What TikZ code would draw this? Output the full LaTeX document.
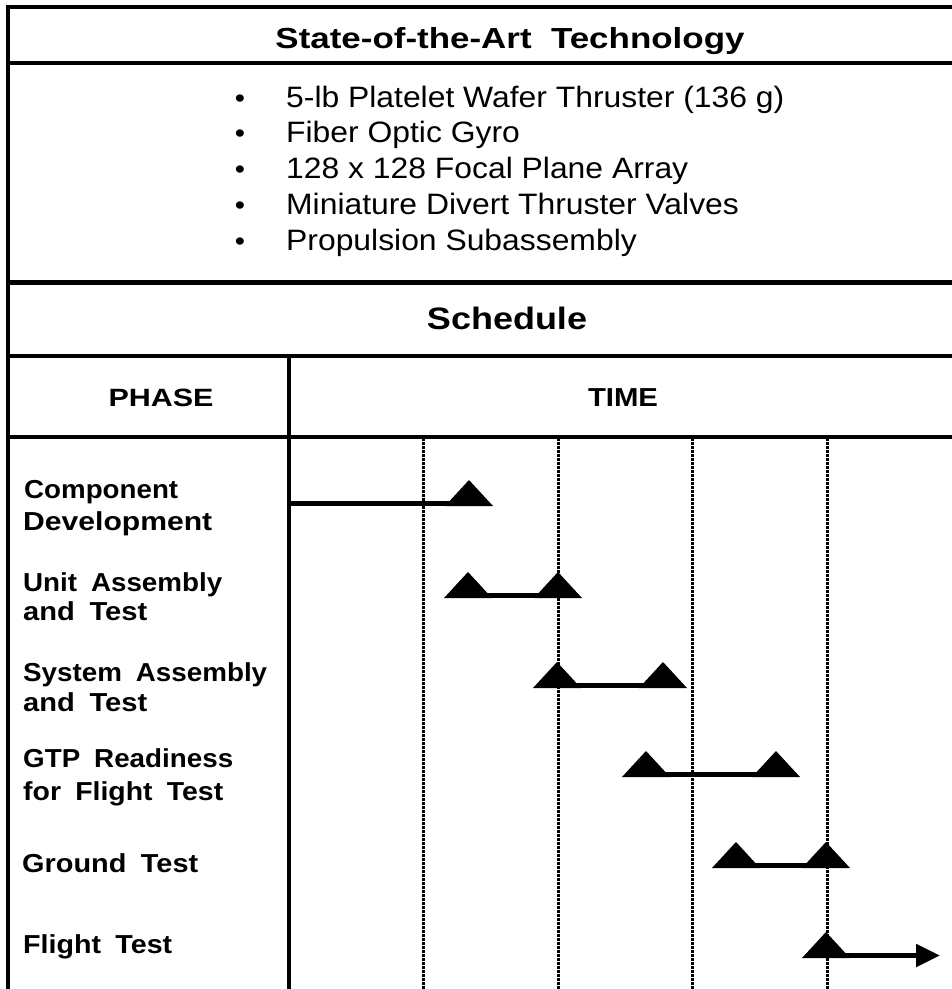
\documentclass[tikz,border=0pt]{standalone}
\usepackage{fontspec}
\usepackage{graphicx}
\usetikzlibrary{arrows.meta}
\setmainfont{Liberation Sans}
\newfontfamily\bodyf{Liberation Sans}[FakeStretch=1.08]
\newfontfamily\labf{Liberation Sans}[WordSpace=1.8]
\newcommand{\fitw}[2]{\resizebox{#1}{\height}{#2}}
\tikzset{
  frameline/.style={line width=3.5pt},
  thickline/.style={line width=5pt},
  gridline/.style={line width=3pt, dash pattern=on 2.6pt off 1.4pt},
  barline/.style={line width=5pt},
  heading/.style={inner sep=0pt, anchor=base},
  item/.style={inner sep=0pt, anchor=base west, font=\bodyf\fontsize{29.5}{34}\selectfont},
  lab/.style={inner sep=0pt, anchor=base west, font=\labf\bfseries\fontsize{26}{30}\selectfont},
  mile/.pic={\fill (-24,0) -- (0,-26) -- (24,0) -- cycle;}
}
\begin{document}
\begin{tikzpicture}[x=1pt,y=-1pt]
\useasboundingbox (0,0) rectangle (952,989);
% frame
\draw[frameline] (8,5) -- (8,989);
\draw[frameline] (6,7) -- (952,7);
\draw[frameline] (6,63) -- (952,63);
\draw[thickline] (6,282) -- (952,282);
\draw[frameline] (6,356) -- (952,356);
\draw[frameline] (6,437) -- (952,437);
\draw[frameline] (289,356) -- (289,989);
% time grid
\foreach \gx in {423,558,692,827} \draw[gridline] (\gx,438) -- (\gx,989);
% headings
\node[heading] (title) at (510,48) {\bfseries\fontsize{29}{32}\selectfont\fitw{469pt}{State-of-the-Art\ \ Technology}};
\node[heading] (sched) at (507,329) {\bfseries\fontsize{31}{34}\selectfont\fitw{160pt}{Schedule}};
\node[heading] (phase) at (161,406) {\bfseries\fontsize{25}{30}\selectfont\fitw{105pt}{PHASE}};
\node[heading] (time) at (623,406) {\bfseries\fontsize{26}{30}\selectfont\fitw{70pt}{TIME}};
% bullets
\foreach \i/\t in {1/{5-lb Platelet Wafer Thruster (136 g)},2/{Fiber Optic Gyro},3/{128 x 128 Focal Plane Array},4/{Miniature Divert Thruster Valves},5/{Propulsion Subassembly}} {
  \node[item] (b\i) at (286,{71.25+35.75*\i}) {\t};
  \node[inner sep=0pt, anchor=base, font=\bodyf\fontsize{27}{30}\selectfont] (d\i) at (240,{71.25+35.75*\i}) {\textbullet};
}
% phase labels
\node[lab] (l1a) at (24,498) {\fitw{154pt}{Component}};
\node[lab] (l1b) at (23,530) {\fitw{189pt}{Development}};
\node[lab] (l2a) at (23,591) {\fitw{199pt}{Unit Assembly}};
\node[lab] (l2b) at (23,620) {\fitw{124pt}{and Test}};
\node[lab] (l3a) at (23,681) {\fitw{244pt}{System Assembly}};
\node[lab] (l3b) at (23,711) {\fitw{124pt}{and Test}};
\node[lab] (l4a) at (23,767) {\fitw{210pt}{GTP Readiness}};
\node[lab] (l4b) at (23,800) {\fitw{200pt}{for Flight Test}};
\node[lab] (l5) at (22,872) {\fitw{176pt}{Ground Test}};
\node[lab] (l6) at (23,953) {\fitw{149pt}{Flight Test}};
% milestones
\coordinate (cd0) at (289,506);
\coordinate (cd1) at (469,506);
\coordinate (ua1) at (468,598);
\coordinate (ua2) at (558,598);
\coordinate (sa1) at (557,688);
\coordinate (sa2) at (663,688);
\coordinate (gr1) at (646,777);
\coordinate (gr2) at (776,777);
\coordinate (gt1) at (736,868);
\coordinate (gt2) at (826,868);
\coordinate (ft1) at (826,958);
\coordinate (ftend) at (940,958);
\draw[barline] ([yshift=2.5pt]cd0) -- ([yshift=2.5pt]cd1);
\draw[barline] ([yshift=2.5pt]ua1) -- ([yshift=2.5pt]ua2);
\draw[barline] ([yshift=2.5pt]sa1) -- ([yshift=2.5pt]sa2);
\draw[barline] ([yshift=2.5pt]gr1) -- ([yshift=2.5pt]gr2);
\draw[barline] ([yshift=2.5pt]gt1) -- ([yshift=2.5pt]gt2);
\draw[barline, -{Triangle[length=24pt,width=22pt]}] ([yshift=2.5pt]ft1) -- ([yshift=2.5pt]ftend);
\foreach \m in {cd1,ua1,ua2,sa1,sa2,gr1,gr2,gt1,gt2,ft1} \pic at (\m) {mile};
\end{tikzpicture}
\end{document}
